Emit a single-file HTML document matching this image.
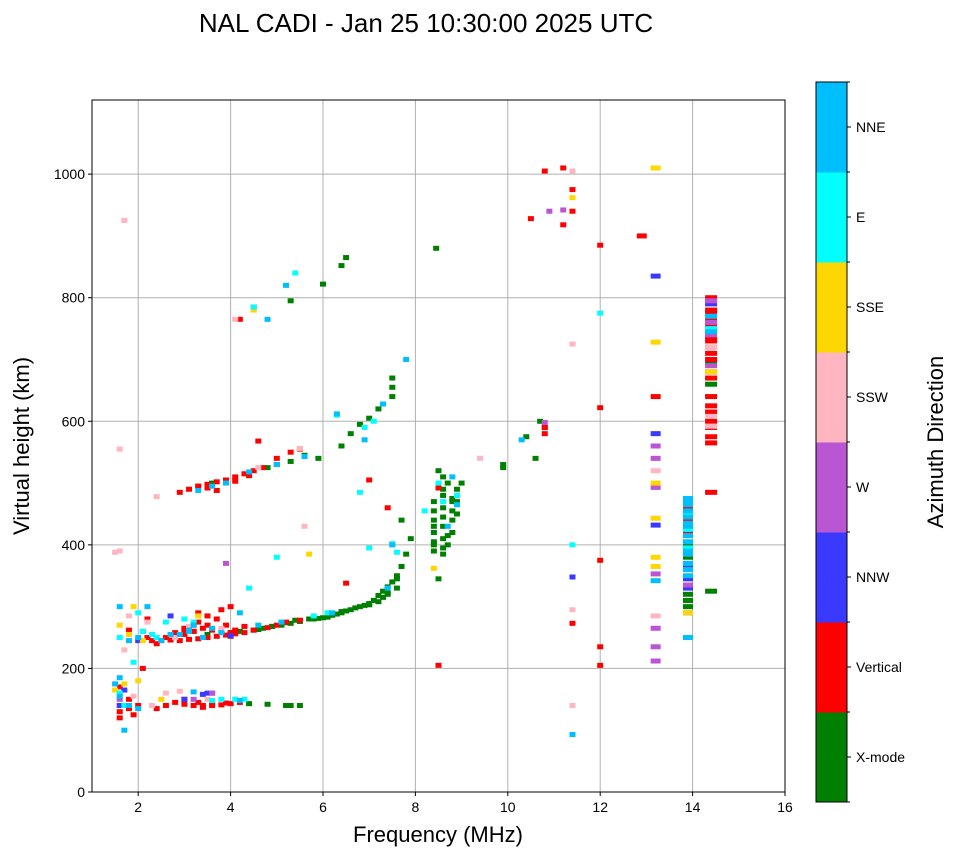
<!DOCTYPE html>
<html><head><meta charset="utf-8"><style>
body{margin:0;background:#fff;font-family:"Liberation Sans",sans-serif}
svg text{font-family:"Liberation Sans",sans-serif}
</style></head><body>
<svg id="chart" width="958" height="857" xmlns="http://www.w3.org/2000/svg">
<rect width="958" height="857" fill="#fff"/>
<text x="426" y="32" font-size="26" text-anchor="middle">NAL CADI - Jan 25 10:30:00 2025 UTC</text>
<g id="grid"></g>
<g id="cells"></g>
<rect x="92" y="100" width="693" height="692" fill="none" stroke="#000" stroke-width="1"/>
<g id="ticks"></g>
<text x="438" y="842" font-size="22" text-anchor="middle">Frequency (MHz)</text>
<text x="0" y="0" font-size="22" text-anchor="middle" transform="translate(29,446) rotate(-90)">Virtual height (km)</text>
<g id="cbar"></g>
<text x="0" y="0" font-size="22" text-anchor="middle" transform="translate(943,442) rotate(-90)">Azimuth Direction</text>
</svg>
<script>
const dirNames = ["X-mode","Vertical","NNW","W","SSW","SSE","E","NNE"];
const dirColors = ["#008000","#ff0000","#3a3aff","#ba55d3","#ffb6c1","#ffd700","#00ffff","#00bfff"];
const xTicks = [2,4,6,8,10,12,14,16];
const yTicks = [0,200,400,600,800,1000];

const xmodeF = [5.2,5.3,5.5,4.4,4.8,4.5,4.7,4.9,5.1,5.3,5.5,5.8,6.0,6.2,6.4,6.6,6.8,7.0,7.1,7.2,7.3,7.4,7.5,7.6,7.7,7.8,7.9,7.7,3.5,4.0,4.2,4.8,5.0,5.3,5.6,5.9,6.4,6.6,6.8,7.0,7.2,7.5,7.5,7.5,3.3,3.6,6.5,6.4,6.0,5.3,8.45,8.4,8.4,8.4,8.4,8.4,8.6,8.6,8.6,8.6,8.6,8.7,8.8,8.8,8.9,8.9,8.7,8.6,8.9,9.0,8.5,9.9,9.9,10.6,10.8,10.7,10.4,14.4,14.4,14.4,13.9,13.9,13.9,13.9,5.4,5.7,6.1,6.4,6.9,7.3,7.4,7.6,8.4,8.6,8.8,8.5,5.9,6.3,6.5,6.7,7.0,7.2,7.4,7.6,4.6,4.9,5.2,8.4,8.6,8.8,8.4,8.6,8.8,8.7,13.9,13.9];
const xmodeH = [140,140,140,143,142,262,265,268,270,273,276,280,282,286,290,295,300,305,310,318,325,332,340,350,365,385,410,440,255,258,260,525,530,535,545,540,560,580,595,605,620,640,655,670,495,500,865,852,822,795,880,390,400,420,440,455,395,410,430,460,480,400,420,440,450,470,500,510,490,500,345,530,525,540,590,600,575,325,695,660,300,310,380,400,278,280,283,292,302,315,322,345,405,385,470,520,281,288,293,298,303,308,320,330,263,268,274,430,445,455,470,490,475,415,320,395];
const vertF = [3.2,3.4,3.6,3.8,4.0,4.2,3.0,2.8,1.6,2.1,1.8,2.3,2.5,2.7,2.9,3.1,3.3,3.5,3.7,3.9,4.1,4.3,4.5,4.8,5.0,5.2,5.5,3.2,3.5,3.8,4.0,2.2,1.8,6.5,7.0,7.4,8.5,2.9,3.1,3.3,3.5,3.7,3.9,4.1,4.3,4.5,4.7,5.0,5.3,5.5,4.6,4.5,4.2,11.2,10.8,11.4,11.4,11.2,10.5,12.9,12.0,12.0,11.4,12.0,12.0,12.0,13.2,10.8,10.8,14.4,14.4,14.4,14.4,14.4,14.4,14.4,14.4,14.4,14.4,14.4,14.4,14.4,14.4,14.4,14.4,13.9,13.9,13.9,3.6,3.4,3.0,2.6,2.4,1.9,1.6,8.5,8.9,4.0,4.0,3.3,3.0,3.2,3.4,3.6,3.8,3.0,3.3,3.5,3.7,3.9,4.1,4.3,2.4,2.6,2.8,3.0,3.2,1.6,1.8,2.0,2.2,3.3,3.6,3.9,3.5,3.7,4.1,4.4,14.4,14.4,14.4,14.4,14.4];
const vertH = [140,140,140,141,143,145,142,145,130,200,150,245,245,246,245,247,248,250,252,254,256,258,262,266,270,275,278,270,285,295,300,250,262,338,505,460,205,485,490,495,498,502,505,510,515,520,525,540,550,555,568,785,765,1010,1005,975,940,918,928,900,885,622,273,375,235,205,640,580,590,485,565,575,600,615,625,670,680,710,720,735,755,765,780,800,700,420,440,460,143,137,150,140,135,125,170,492,480,252,258,290,255,260,265,262,258,265,275,270,280,270,262,268,240,250,258,262,260,120,135,140,280,145,146,144,492,488,503,512,590,640,730,745,775];
const nnwF = [3.6,3.0,1.7,13.2,13.2,13.2,11.4,13.9,13.9,14.4,2.7,1.6,4.0,13.9,3.4,3.5,2.0,13.9];
const nnwH = [160,150,165,835,580,432,348,290,345,790,285,140,253,330,158,160,245,365];
const wF = [10.9,11.2,13.2,13.2,13.2,13.2,13.2,13.2,13.2,3.6,3.9,14.4,14.4,14.4,10.8,1.6,13.9,3.2,2.1,14.4];
const wH = [940,942,560,540,493,353,265,235,212,160,370,740,760,690,598,150,335,150,260,795];
const sswF = [1.7,1.6,1.6,1.5,4.1,2.4,3.5,2.6,9.4,11.4,11.4,11.4,11.4,13.2,13.2,14.4,14.4,14.4,5.6,1.9,2.9,4.6,5.5,2.3,1.7,2.8,3.1,3.8,1.8,2.2];
const sswH = [925,555,390,388,765,478,150,160,540,1005,725,295,140,520,285,720,608,592,430,155,163,525,556,140,230,250,268,265,285,275];
const sseF = [11.4,13.2,13.2,13.2,13.2,13.2,13.2,8.4,4.5,5.7,1.6,1.9,2.1,3.3,1.7,14.4,13.9,2.5,1.5,2.0,1.8];
const sseH = [962,1010,728,500,443,380,365,362,780,385,270,300,245,285,175,680,290,150,165,180,255];
const eF = [6.3,6.9,6.8,7.0,7.6,5.0,4.4,3.8,4.1,3.2,2.1,1.6,1.6,12.0,11.4,8.9,8.5,13.9,14.4,5.4,7.1,2.0,5.8,6.1,11.4,2.4,3.0,4.5,7.5,8.2,8.6,1.7,1.9,2.3,2.6,3.6,4.3,13.9,13.9];
const eH = [610,590,485,395,388,380,330,150,150,275,260,250,160,775,400,480,500,395,750,840,600,290,285,290,93,250,280,785,402,455,470,140,210,255,275,148,150,450,425];
const nneF = [5.2,4.8,6.3,7.3,7.8,7.5,4.2,3.1,2.7,1.6,1.6,1.7,2.0,3.2,4.2,10.3,8.9,8.8,13.2,13.9,13.9,13.9,13.9,13.9,13.9,13.9,14.4,11.4,6.9,6.2,7.4,8.7,3.3,3.6,3.9,4.4,5.0,5.6,2.5,1.8,2.2,13.9,13.9,13.9,13.9,13.9,2.9,3.1,3.4,3.6,3.2,3.8,4.6,5.1,1.6,1.8,2.0,1.5,13.9,13.9,13.9,14.4];
const nneH = [820,765,612,628,700,400,290,262,255,300,185,100,135,162,148,570,465,510,342,250,470,455,430,415,370,360,770,93,570,290,330,430,488,495,500,518,530,543,245,245,300,475,445,405,385,350,255,260,250,265,270,258,270,275,155,140,250,175,465,435,390,745];

const X0=92, X1=785, Y0=792, Y1=100;
const xMin=1, xMax=16, yMin=0, yMax=1120;
const sx = f => X0 + (f-xMin)/(xMax-xMin)*(X1-X0);
const sy = h => Y0 - (h-yMin)/(yMax-yMin)*(Y0-Y1);
const NS="http://www.w3.org/2000/svg";
function mk(tag, attrs, parent){const e=document.createElementNS(NS,tag);for(const k in attrs)e.setAttribute(k,attrs[k]);parent.appendChild(e);return e;}

const grid=document.getElementById('grid'), ticks=document.getElementById('ticks');
xTicks.forEach(t=>{
  const x=sx(t);
  if(t<xMax){const l=mk('line',{x1:x,x2:x,y1:Y1,y2:Y0,stroke:'#b0b0b0','stroke-width':1},grid);
  
  }
  mk('line',{x1:x,x2:x,y1:Y0,y2:Y0+4,stroke:'#000'},ticks);
  const tx=mk('text',{x:x,y:Y0+20,'font-size':14,'text-anchor':'middle'},ticks);
  tx.textContent=t;
  
  
});
yTicks.forEach(t=>{
  const y=sy(t);
  if(t>0){const l=mk('line',{x1:X0,x2:X1,y1:y,y2:y,stroke:'#b0b0b0','stroke-width':1},grid);
  
  }
  mk('line',{x1:X0-4,x2:X0,y1:y,y2:y,stroke:'#000'},ticks);
  const tx=mk('text',{x:X0-7,y:y+5,'font-size':14,'text-anchor':'end'},ticks);
  tx.textContent=t;
  
  
});

const cells=document.getElementById('cells');
const series=[[xmodeF,xmodeH],[vertF,vertH],[nnwF,nnwH],[wF,wH],[sswF,sswH],[sseF,sseH],[eF,eH],[nneF,nneH]];
series.forEach((s,i)=>{
  s[0].forEach((f,j)=>{
    const w = f>13.5 ? (f>14.2?12:10) : (f>12.5?10:6);
    const r=mk('rect',{x:sx(f)-w/2,y:sy(s[1][j])-2.5,width:w,height:5,fill:dirColors[i]},cells);
    
    
  });
});

const cbar=document.getElementById('cbar');
const CB0=82, CB1=802, cbx=816, cbw=31, seg=(CB1-CB0)/dirNames.length;
dirNames.forEach((n,i)=>{
  const y=CB1-(i+1)*seg;
  const r=mk('rect',{x:cbx,y:y,width:cbw,height:seg+0.5,fill:dirColors[i]},cbar);
  
  
  mk('line',{x1:cbx+cbw,x2:cbx+cbw+4,y1:y+seg/2,y2:y+seg/2,stroke:'#000'},cbar);
  const t=mk('text',{x:cbx+cbw+9,y:y+seg/2+5,'font-size':14},cbar);
  t.textContent=n;
  
  
});
for(let i=0;i<=dirNames.length;i++){const y=CB0+i*seg;mk('line',{x1:cbx+cbw,x2:cbx+cbw+3,y1:y,y2:y,stroke:'#000'},cbar);}
mk('rect',{x:cbx,y:CB0,width:cbw,height:CB1-CB0,fill:'none',stroke:'#000'},cbar);
</script>
</body></html>
